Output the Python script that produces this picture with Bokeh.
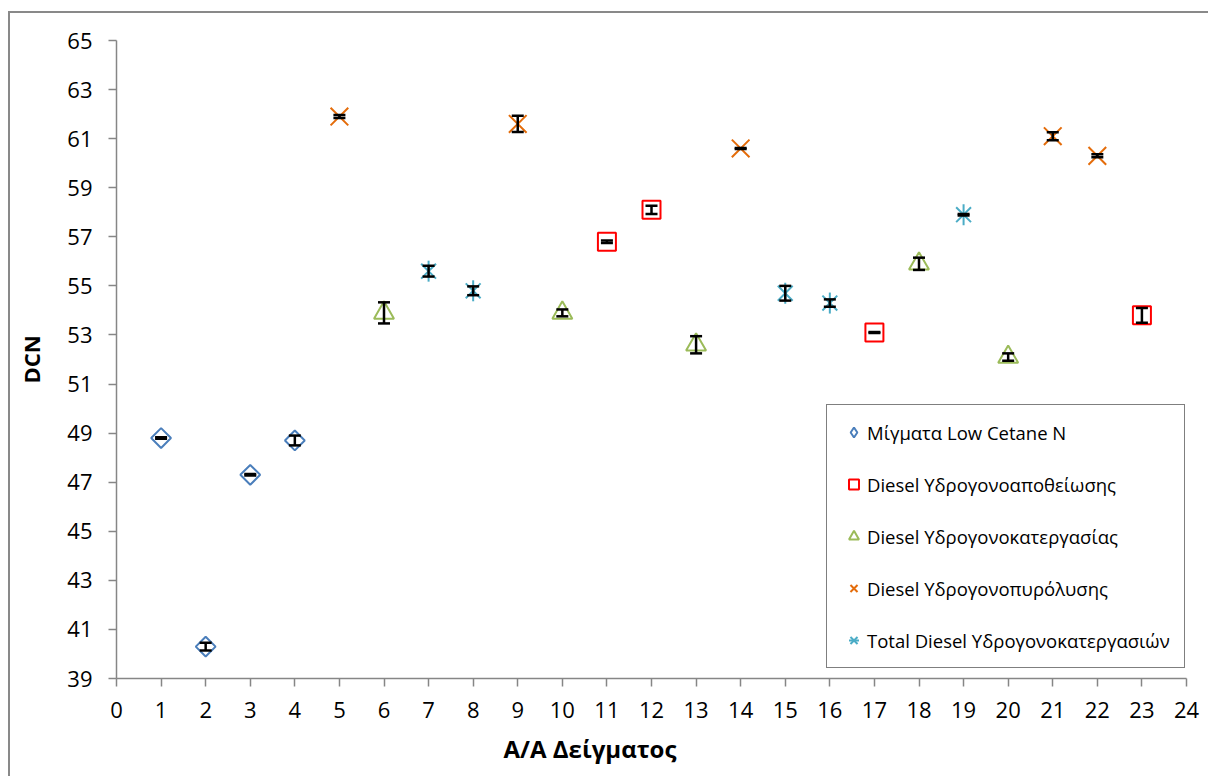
import numpy as np
from bokeh.plotting import figure
from bokeh.models import (Range1d, FixedTicker, Whisker, ColumnDataSource, Legend,
                          LegendItem, Title, TeeHead)
from bokeh.embed import file_html
from bokeh.resources import INLINE

# ---- data ----
names = ["Μίγματα Low Cetane N", "Diesel Υδρογονοαποθείωσης",
         "Diesel Υδρογονοκατεργασίας", "Diesel Υδρογονοπυρόλυσης",
         "Total Diesel Υδρογονοκατεργασιών"]

low_x = [1, 2, 3, 4]
low_y = [48.8, 40.3, 47.3, 48.7]
low_err = [0.03, 0.16, 0.03, 0.2]

hds_x = [11, 12, 17, 23]
hds_y = [56.8, 58.1, 53.1, 53.8]
hds_err = [0.05, 0.17, 0.02, 0.3]

ht_x = [6, 10, 13, 18, 20]
ht_y = [53.9, 53.9, 52.6, 55.9, 52.1]
ht_err = [0.43, 0.14, 0.35, 0.25, 0.15]

hc_x = [5, 9, 14, 21, 22]
hc_y = [61.9, 61.6, 60.6, 61.1, 60.3]
hc_err = [0.06, 0.33, 0.02, 0.16, 0.06]

tot_x = [7, 8, 15, 16, 19]
tot_y = [55.6, 54.8, 54.7, 54.3, 57.9]
tot_err = [0.22, 0.18, 0.3, 0.15, 0.03]

x_ticks = list(range(0, 25))
y_ticks = list(range(39, 66, 2))

x_title = "Α/Α Δείγματος"
y_title = "DCN"

FONT = "Open Sans"
C_LOW, C_HDS, C_HT, C_HC, C_TOT = "#4A7EBB", "#FF0000", "#9BBB59", "#E46C0A", "#4BACC6"

p = figure(width=1200, height=765, output_backend="svg", toolbar_location=None,
           x_range=Range1d(0, 24), y_range=Range1d(39, 65),
           min_border_left=106, min_border_right=24, min_border_top=27,
           min_border_bottom=100)
p.styles = {"margin-left": "8px", "margin-top": "11px",
            "border-left": "2px solid #898989", "border-top": "2px solid #898989"}
p.outline_line_color = None
p.xgrid.visible = False
p.ygrid.visible = False
p.background_fill_color = "white"
p.border_fill_color = "white"

for ax, ticks in ((p.xaxis[0], x_ticks), (p.yaxis[0], y_ticks)):
    ax.ticker = FixedTicker(ticks=ticks)
    ax.axis_line_color = "#868686"
    ax.axis_line_width = 1.5
    ax.major_tick_line_color = "#868686"
    ax.major_tick_line_width = 1.5
    ax.major_tick_out = 8
    ax.major_tick_in = 0
    ax.minor_tick_line_color = None
    ax.major_label_text_font = FONT
    ax.major_label_text_font_size = "22px"
    ax.major_label_text_color = "black"

p.xaxis.major_label_standoff = 15
p.yaxis.major_label_standoff = 16
p.yaxis.axis_label = y_title
p.yaxis.axis_label_text_font = FONT
p.yaxis.axis_label_text_font_style = "bold"
p.yaxis.axis_label_text_font_size = "22px"
p.yaxis.axis_label_text_color = "black"
p.yaxis.axis_label_standoff = 18

xt = Title(text=x_title, align="left", offset=387, text_font=FONT,
           text_font_style="bold", text_font_size="24px", text_color="black",
           standoff=18)
p.add_layout(xt, "below")

def add_err(xs, ys, es):
    src = ColumnDataSource(dict(x=xs, upper=[y + e for y, e in zip(ys, es)],
                                lower=[y - e for y, e in zip(ys, es)]))
    w = Whisker(base="x", upper="upper", lower="lower", source=src,
                line_color="black", line_width=2.5,
                upper_head=TeeHead(size=12, line_width=2.5, line_color="black"),
                lower_head=TeeHead(size=12, line_width=2.5, line_color="black"))
    w.level = "overlay"
    p.add_layout(w)

# main markers
p.scatter(low_x, low_y, marker="square", angle=np.pi / 4, size=14,
          fill_color="white", line_color=C_LOW, line_width=2)
add_err(low_x, low_y, low_err)

p.scatter(hds_x, hds_y, marker="square", size=18,
          fill_color="white", line_color=C_HDS, line_width=2)
add_err(hds_x, hds_y, hds_err)

p.scatter(ht_x, ht_y, marker="triangle", size=20,
          fill_color="white", line_color=C_HT, line_width=2)
add_err(ht_x, ht_y, ht_err)

p.scatter(hc_x, hc_y, marker="x", size=25, line_color=C_HC, line_width=2)
add_err(hc_x, hc_y, hc_err)

p.scatter(tot_x, tot_y, marker="x", size=21, line_color=C_TOT, line_width=2)
p.scatter(tot_x, tot_y, marker="dash", angle=np.pi / 2, size=21,
          line_color=C_TOT, line_width=2)
add_err(tot_x, tot_y, tot_err)

# legend-only glyphs (a single NaN point, never drawn in the plot)
nan = [np.nan]
l1 = p.scatter(nan, nan, marker="diamond", size=10, fill_color="white",
               line_color=C_LOW, line_width=2)
l2 = p.scatter(nan, nan, marker="square", size=10, fill_color="white",
               line_color=C_HDS, line_width=2)
l3 = p.scatter(nan, nan, marker="triangle", size=10, fill_color="white",
               line_color=C_HT, line_width=2)
l4 = p.scatter(nan, nan, marker="x", size=10, line_color=C_HC, line_width=2)
l5a = p.scatter(nan, nan, marker="x", size=10, line_color=C_TOT, line_width=2)
l5b = p.scatter(nan, nan, marker="dash", angle=np.pi / 2, size=10,
                line_color=C_TOT, line_width=2)

items = [LegendItem(label=names[0], renderers=[l1]),
         LegendItem(label=names[1], renderers=[l2]),
         LegendItem(label=names[2], renderers=[l3]),
         LegendItem(label=names[3], renderers=[l4]),
         LegendItem(label=names[4], renderers=[l5a, l5b])]

legend = Legend(items=items, location=(710, 10))
legend.label_text_font = FONT
legend.label_text_font_size = "18.5px"
legend.label_text_color = "black"
legend.glyph_width = 25
legend.glyph_height = 26
legend.label_height = 26
legend.label_standoff = 1
legend.spacing = 26
legend.padding = 14
legend.margin = 0
legend.border_line_color = "black"
legend.border_line_width = 1.5
legend.background_fill_color = "white"
legend.background_fill_alpha = 1
p.add_layout(legend)

open("out.html", "w").write(file_html(p, INLINE))
